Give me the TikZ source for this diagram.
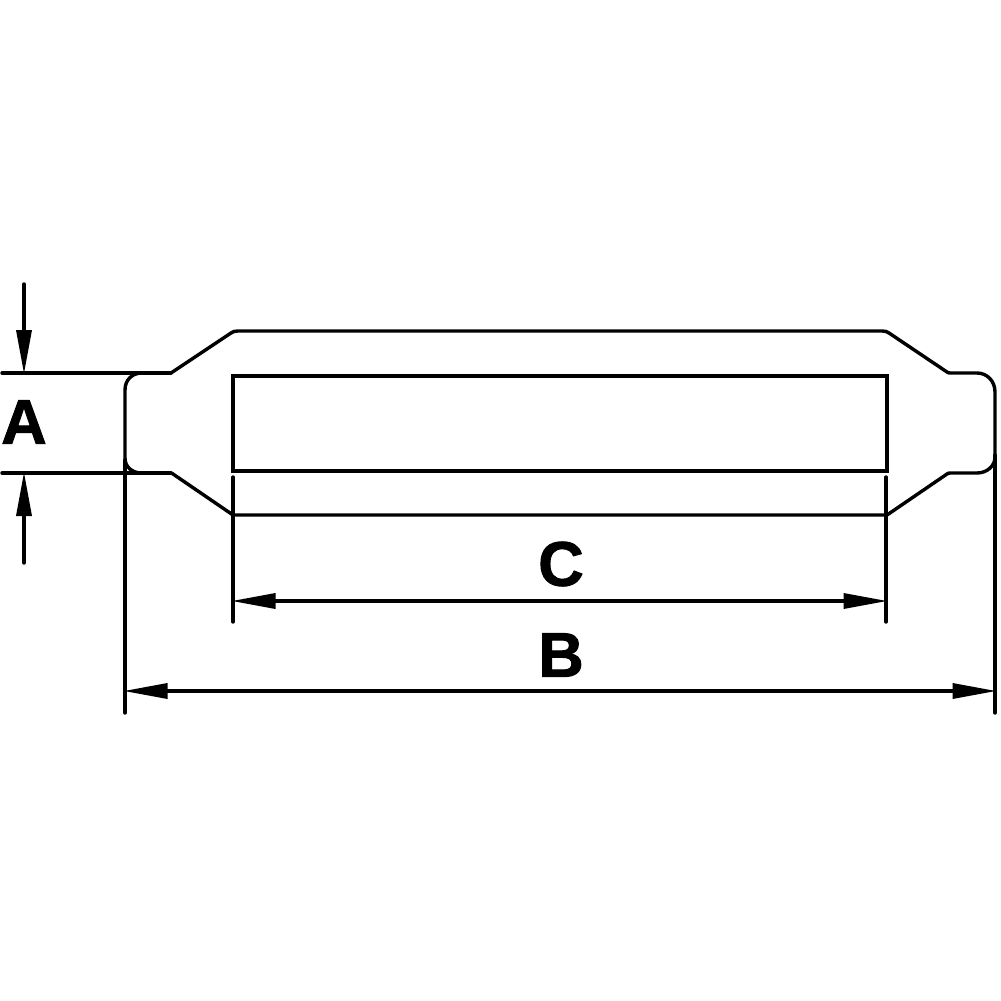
\documentclass[tikz,border=0pt]{standalone}
\usepackage{fontspec}
\setmainfont[BoldFeatures={FakeBold=1.5}]{Liberation Sans}
\usetikzlibrary{arrows.meta}
\tikzset{
  part/.style={line width=3.4pt,line join=round,line cap=round},
  ext/.style={line width=3.4pt,line cap=round},
  dimline/.style={line width=3.4pt,line cap=butt,shorten <=-1.5pt,shorten >=-1.5pt,{Triangle[length=44pt,width=15pt]}-{Triangle[length=44pt,width=15pt]}},
  leader/.style={line width=3.4pt,line cap=round,shorten >=-1pt,-{Triangle[length=44pt,width=15pt]}},
  letter/.style={font=\fontsize{63}{63}\selectfont\bfseries,inner sep=0pt,text=black}
}
\begin{document}
\begin{tikzpicture}[x=1pt,y=-1pt]
\useasboundingbox (0,0) rectangle (1001,1001);
\fill[white] (0,0) rectangle (1001,1001);
% body outline
\draw[part] (171,373) -- (231,333) .. controls (233,331.5) and (235,331) .. (238,331)
  -- (882,331) .. controls (885,331) and (887,331.5) .. (889,333)
  -- (947,372) .. controls (948,373) and (949,373) .. (951,373)
  -- (977,373) .. controls (987,373) and (995,381) .. (995,392)
  -- (995,457) .. controls (995,466) and (987,473) .. (977,473)
  -- (951,473) .. controls (949,473) and (948,473) .. (947,474)
  -- (887,515) -- (233,515) -- (173,474) .. controls (172,473) and (171,473) .. (169,473)
  -- (142,473) .. controls (132,473) and (125,467) .. (125,458)
  -- (125,390) .. controls (125,380) and (132,373) .. (142,373);
% slot
\node[draw,line width=3.4pt,minimum width=654pt,minimum height=95pt,inner sep=0pt,outer sep=0pt,anchor=north west] (slot) at (233,376) {};
% extension lines
\coordinate (Atop) at (2,373); \coordinate (AtopEnd) at (171,373);
\coordinate (Abot) at (2,473); \coordinate (AbotEnd) at (171,473);
\draw[ext] (Atop) -- (AtopEnd);
\draw[ext] (Abot) -- (AbotEnd);
\coordinate (Ca1) at (233,477); \coordinate (Ca2) at (233,622);
\coordinate (Cb1) at (886,477); \coordinate (Cb2) at (886,622);
\draw[ext] (Ca1) -- (Ca2);
\draw[ext] (Cb1) -- (Cb2);
\coordinate (Ba1) at (125,460); \coordinate (Ba2) at (125,713);
\coordinate (Bb1) at (995,455); \coordinate (Bb2) at (995,713);
\draw[ext] (Ba1) -- (Ba2);
\draw[ext] (Bb1) -- (Bb2);
% dimension arrows
\coordinate (A1s) at (24,284); \coordinate (A1t) at (24,373);
\coordinate (A2s) at (24,563); \coordinate (A2t) at (24,473);
\draw[leader] (A1s) -- (A1t);
\draw[leader] (A2s) -- (A2t);
\coordinate (C1) at (233,601); \coordinate (C2) at (886,601);
\draw[dimline] (C1) -- (C2);
\coordinate (B1) at (125,691); \coordinate (B2) at (995,691);
\draw[dimline] (B1) -- (B2);
% labels
\node[letter] (labA) at (24,422) {A};
\node[letter] (labC) at (561,564) {C};
\node[letter] (labB) at (561,655) {B};
\end{tikzpicture}
\end{document}
